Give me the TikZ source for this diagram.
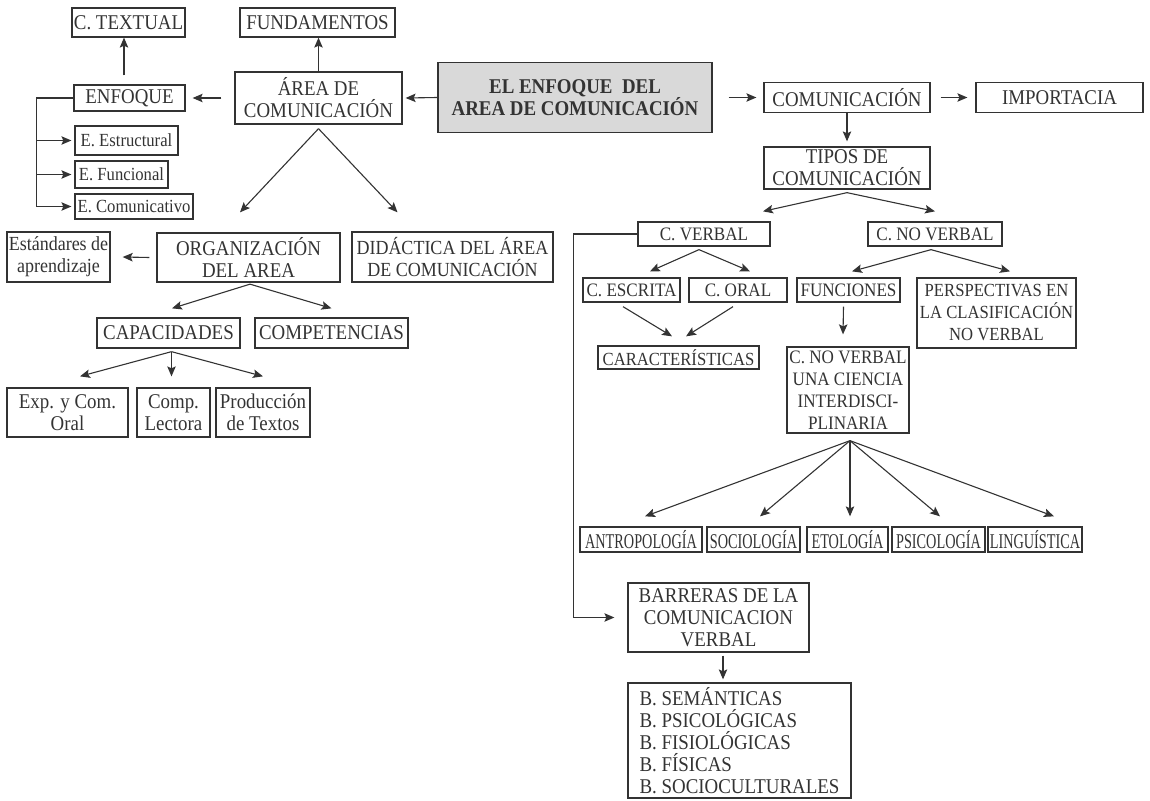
\documentclass[tikz,border=0pt]{standalone}
\usepackage{fontspec}
\setmainfont{Liberation Serif}[FakeStretch=0.9]
\newfontfamily\condfont{Liberation Serif}[FakeStretch=0.68]
\usetikzlibrary{arrows.meta}
\definecolor{ink}{HTML}{333333}
\definecolor{boxgray}{HTML}{D9D9D9}

\begin{document}
\begin{tikzpicture}
  [x=1pt,y=-1pt,
   every node/.style={draw=ink,line width=1.3pt,inner sep=1pt,align=center,text=ink,
     font=\fontsize{21}{22}\selectfont},
   sz/.style 2 args={minimum width=#1pt,minimum height=#2pt},
   fmid/.style={font=\fontsize{19}{22}\selectfont},
   fsmall/.style={font=\fontsize{18.5}{22}\selectfont},
   fcond/.style={font=\condfont\fontsize{21}{22}\selectfont},
   arr/.style={draw=ink,line width=1.1pt,-{Stealth[length=10pt,width=8.5pt,inset=2pt]}}]
  \useasboundingbox (0,0) rectangle (1150,800);

  % left part
  \node[sz={113}{29}] (ctextual) at (128.5,22.5) {C. TEXTUAL};
  \node[sz={155}{29}] (fund) at (317.5,22.5) {FUNDAMENTOS};
  \node[sz={167}{52}] (area) at (318.5,98) {ÁREA DE\\COMUNICACIÓN};
  \node[sz={111}{26}] (enfoque) at (129.5,98) {ENFOQUE};
  \node[sz={103}{29},fsmall] (eestr) at (126.5,140.5) {E. Estructural};
  \node[sz={93}{27},fsmall] (efunc) at (121.5,174.5) {E. Funcional};
  \node[sz={118}{25},fsmall] (ecomu) at (134,206.5) {E. Comunicativo};
  \node[sz={103}{50},font=\fontsize{20}{22}\selectfont] (estand) at (58.5,257) {Estándares de\\aprendizaje};
  \node[sz={183}{49}] (org) at (248.5,257.5) {ORGANIZACIÓN\\DEL AREA};
  \node[sz={201}{50},font=\fontsize{20}{22}\selectfont] (didac) at (452.5,257) {DIDÁCTICA DEL ÁREA\\DE COMUNICACIÓN};
  \node[sz={143}{30}] (capac) at (168.5,333) {CAPACIDADES};
  \node[sz={153}{30}] (compet) at (331.5,333) {COMPETENCIAS};
  \node[sz={121}{49}] (expc) at (67.5,412.5) {Exp. y Com.\\Oral};
  \node[sz={73}{49}] (compl) at (173.5,412.5) {Comp.\\Lectora};
  \node[sz={94}{49}] (prod) at (263,412.5) {Producción\\de Textos};

  % centre and right part
  \node[sz={274}{70},fill=boxgray,font=\fontsize{21}{21}\selectfont\bfseries] (main) at (575,97.5) {EL ENFOQUE\ \ DEL\\AREA DE COMUNICACIÓN};
  \node[sz={166}{30}] (comun) at (847,97.5) {COMUNICACIÓN};
  \node[sz={167}{30}] (import) at (1059.5,97.5) {IMPORTACIA};
  \node[sz={166}{42}] (tipos) at (847,168) {TIPOS DE\\COMUNICACIÓN};
  \node[sz={132}{24},fmid] (cverbal) at (704,234) {C. VERBAL};
  \node[sz={134}{24},fmid] (cnoverbal) at (935,234) {C. NO VERBAL};
  \node[sz={97}{24},fmid] (cescrita) at (631.5,290) {C. ESCRITA};
  \node[sz={98}{24},fmid] (coral) at (738,290) {C. ORAL};
  \node[sz={103}{24},fmid] (funciones) at (848.5,290) {FUNCIONES};
  \node[sz={159}{70},fsmall] (persp) at (996.5,313) {PERSPECTIVAS EN\\LA CLASIFICACIÓN\\NO VERBAL};
  \node[sz={161}{23},fsmall] (caract) at (678.5,357.5) {CARACTERÍSTICAS};
  \node[sz={122}{86},fmid] (ciencia) at (848,390) {C. NO VERBAL\\UNA CIENCIA\\INTERDISCI-\\PLINARIA};
  \node[sz={122}{25},fcond] (antro) at (641,539.5) {ANTROPOLOGÍA};
  \node[sz={93}{25},fcond] (socio) at (753.5,539.5) {SOCIOLOGÍA};
  \node[sz={81}{25},fcond] (eto) at (847.5,539.5) {ETOLOGÍA};
  \node[sz={93}{25},fcond] (psico) at (938.5,539.5) {PSICOLOGÍA};
  \node[sz={94}{25},fcond] (ling) at (1035,539.5) {LINGUÍSTICA};
  \node[sz={181}{69}] (barreras) at (718.5,617.5) {BARRERAS DE LA\\COMUNICACION\\VERBAL};
  \node[sz={223}{115},align=left] (blist) at (739.5,740.5) {B. SEMÁNTICAS\\B. PSICOLÓGICAS\\B. FISIOLÓGICAS\\B. FÍSICAS\\B. SOCIOCULTURALES};

  % straight arrows
  \draw[arr] ([xshift=-5.5pt,yshift=9pt]enfoque.north) -- ([xshift=-4.5pt]ctextual.south);
  \draw[arr] (area.north) -- (area.north |- fund.south);
  \draw[arr] ([xshift=-13pt]area.west) -- ([xshift=7pt]enfoque.east);
  \draw[arr] (main.west) -- ([xshift=3pt]area.east);
  \draw[arr] ([xshift=16pt]main.east) -- ([xshift=-7pt]comun.west);
  \draw[arr] ([xshift=10pt]comun.east) -- ([xshift=-8pt]import.west);
  \draw[arr] (comun.south) -- ([yshift=5pt]tipos.north);
  \draw[arr] ([xshift=-7pt]org.west) -- ([xshift=12pt]estand.east);
  \draw[arr] ([xshift=-8.5pt,yshift=-4pt]cescrita.south) -- ([xshift=-6.5pt,yshift=9pt]caract.north);
  \draw[arr] ([xshift=-5pt,yshift=-4pt]coral.south) -- ([xshift=7.5pt,yshift=9pt]caract.north);
  \draw[arr] ([xshift=-5pt,yshift=-4pt]funciones.south) -- ([xshift=-5pt,yshift=12pt]ciencia.north);
  \draw[arr] ([xshift=4.5pt,yshift=-3pt]barreras.south) -- ([xshift=-16.5pt,yshift=3pt]blist.north);

  % fans
  \foreach \to/\dx/\dy in {org/-8.5/20, didac/-55/19}
    \draw[arr] ([yshift=-4pt]area.south) -- ([xshift=\dx pt,yshift=\dy pt]\to.north);
  \foreach \to/\dx/\dy in {capac/3.5/9, compet/0/9}
    \draw[arr] ([xshift=1.5pt,yshift=-1.5pt]org.south) -- ([xshift=\dx pt,yshift=\dy pt]\to.north);
  \foreach \to/\dx/\dy in {expc/12.5/11, compl/-2/11, prod/0/11}
    \draw[arr] ([xshift=3pt,yshift=-3pt]capac.south) -- ([xshift=\dx pt,yshift=\dy pt]\to.north);
  \foreach \to/\dx/\dy in {cverbal/59/10, cnoverbal/0/10}
    \draw[arr] ([yshift=-3pt]tipos.south) -- ([xshift=\dx pt,yshift=\dy pt]\to.north);
  \foreach \to/\dx/\dy in {cescrita/18.5/6, coral/12/6}
    \draw[arr] ([xshift=-5pt,yshift=-3pt]cverbal.south) -- ([xshift=\dx pt,yshift=\dy pt]\to.north);
  \foreach \to/\dx/\dy in {funciones/3.5/6, persp/13.5/6}
    \draw[arr] ([xshift=-4pt,yshift=-3pt]cnoverbal.south) -- ([xshift=\dx pt,yshift=\dy pt]\to.north);
  \foreach \to/\dx in {antro/4, socio/6.5, eto/2.5, psico/1.5, ling/19}
    \draw[arr] ([xshift=2pt,yshift=-7pt]ciencia.south) -- ([xshift=\dx pt,yshift=10pt]\to.north);

  % brackets
  \coordinate (bk) at ([xshift=-37pt]enfoque.west);
  \draw[arr] (enfoque.west) -- (bk) |- ([xshift=-3pt]ecomu.west);
  \foreach \to in {eestr,efunc}
    \draw[arr] (bk |- \to.west) -- ([xshift=-3pt]\to.west);
  \draw[arr] (cverbal.west) -- ++(-64,0) |- ([xshift=-13pt]barreras.west);

\end{tikzpicture}
\end{document}
